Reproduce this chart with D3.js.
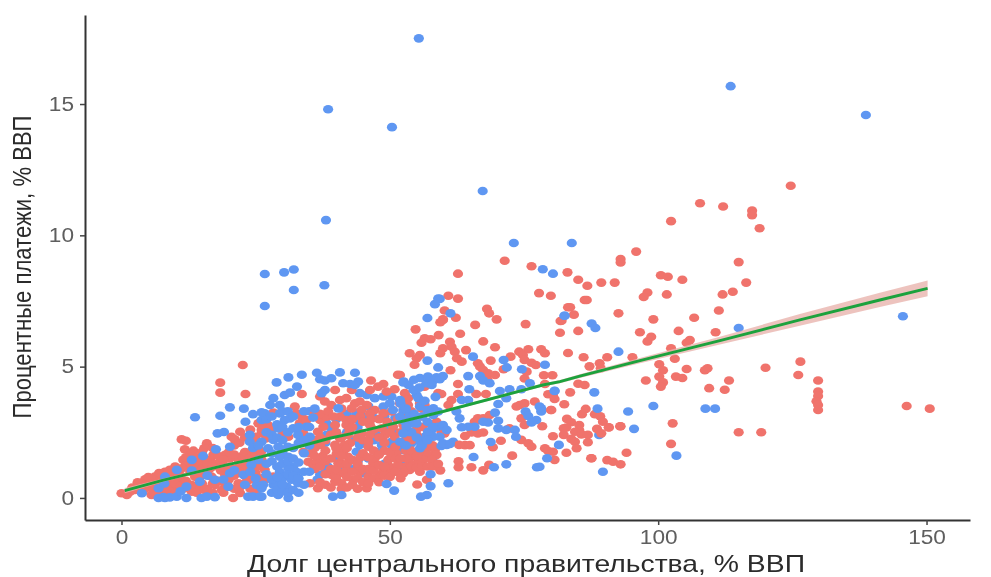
<!DOCTYPE html>
<html>
<head>
<meta charset="utf-8">
<script src="https://cdn.jsdelivr.net/npm/d3@7"></script>
<style>
html, body { margin: 0; padding: 0; background: #fff; }
svg { display: block; filter: blur(0.45px); }
</style>
</head>
<body>
<div id="chart1"></div>
<script>
var width = 991,
    height = 577;

var xTicks = [0, 50, 100, 150],
    yTicks = [0, 5, 10, 15];

var xTitle = "Долг центрального правительства, % ВВП",
    yTitle = "Процентные платежи, % ВВП";

// debt, payments
var blueBack = [
  [40.4,1.19],[39.8,1.51],[38.5,1.19],[37.0,0.88],[42.6,1.13],[45.0,0.94],[43.5,2.21],[44.4,2.02],[43.8,1.76],
  [47.5,1.76],[48.5,2.02],[50.3,2.02],[47.5,2.40],[43.8,3.22],[45.0,3.09],[38.2,2.84],[39.1,2.65],[38.2,2.40],
  [50.3,2.14],[52.5,1.95],[52.2,2.08],[53.1,2.33],[52.5,1.83],[54.0,2.08],[55.6,2.14],[56.5,2.33],[58.1,1.38],
  [44.4,3.99],[45.7,3.92],[47.2,3.80],[48.8,3.86],[50.3,3.86],[48.8,3.48],[50.0,3.60],[52.2,1.32],[52.5,1.19],
  [62.4,3.29],[63.0,3.03],[88.1,4.02],[89.0,2.40],[57.0,5.23],[61.8,2.14],
  [38.0,2.10],[38.0,1.00],[40.0,2.50],[40.0,3.00],[42.0,2.50],[42.0,3.20],[44.0,2.70],[44.0,3.00],[44.0,1.40],
  [46.0,1.50],[46.0,2.10],[46.0,3.50],[47.0,3.05],[47.0,2.20],[49.0,2.60],[49.0,1.30],[49.0,3.10],[51.0,2.50],
  [51.0,3.05],[51.0,1.60],[53.0,1.80],[36.5,0.70],[35.0,3.30]
];

var redPts = [
  // right side
  [124.7,11.89],[107.8,11.22],[112.1,11.10],[117.5,10.94],[117.5,10.77],[118.9,10.27],[102.4,10.54],[95.9,9.38],[93.0,9.10],[93.0,8.97],
  [115.0,8.98],[116.4,8.20],[113.9,7.85],[112.0,7.75],[111.3,7.14],[106.7,6.86],[100.5,8.48],[101.8,8.42],[104.5,8.31],[98.0,7.82],
  [97.3,7.65],[101.6,7.75],[92.6,7.03],[99.1,6.80],[96.6,6.31],[103.8,6.36],[98.7,6.14],[98.0,5.96],[110.7,6.31],[105.9,6.01],
  [105.3,5.91],[102.4,5.70],[103.1,5.30],[100.2,5.09],[100.9,4.86],[100.2,4.62],[100.9,4.40],[100.5,4.24],[97.7,4.47],[103.3,4.62],
  [104.5,4.57],[105.3,4.91],[109.2,4.94],[108.7,4.86],[113.2,4.47],[109.5,4.18],[112.4,4.12],[120.0,4.96],[126.5,5.19],[126.1,4.68],
  [129.8,4.47],[129.8,4.05],[129.8,3.88],[129.5,3.68],[129.8,3.54],[129.8,3.35],[146.3,3.50],[150.6,3.40],[115.0,2.50],[119.2,2.50],
  [102.7,2.84],[102.4,2.06],[94.1,1.72],[87.6,1.51],[90.5,1.44],[91.6,1.38],[93.0,1.28],[93.0,2.73],[90.8,2.69],
  // upper middle
  [71.4,9.03],[76.4,8.82],[62.7,8.54],[83.1,8.59],[77.8,7.80],[80.0,7.70],[60.9,7.70],[62.7,7.59],[60.2,7.14],[62.3,6.86],[59.9,6.78],
  [68.1,7.20],[68.5,7.03],[69.9,6.80],[65.9,6.59],[75.3,6.62],[83.2,7.26],[81.8,6.74],[85.1,8.31],[86.8,8.08],[89.4,8.20],[91.9,8.20],
  [86.3,7.54],[86.7,7.54],[83.6,7.26],[84.3,6.98],[82.0,6.75],[85.1,6.36],[81.7,6.29],[83.2,5.52],[86.1,5.36],[87.2,5.01],[89.1,5.13],
  [90.5,5.36],[89.3,4.94],[95.2,5.36],[85.1,4.35],[86.3,4.30],[83.6,4.02],[82.5,3.57],
  // lower right cluster
  [79.5,3.95],[80.7,3.77],[80.0,3.35],[86.5,3.39],[85.8,3.19],[88.2,3.19],[89.2,3.11],[89.7,2.90],[90.8,2.68],[92.9,2.73],[78.4,2.73],
  [83.0,3.01],[83.8,2.88],[82.9,2.68],[82.4,2.65],[85.3,2.78],[85.3,2.59],[84.5,2.52],[85.7,2.42],[86.9,2.40],[88.6,2.63],[89.4,2.46],
  [82.4,2.40],[80.4,2.35],[83.8,2.25],[84.5,2.14],[86.9,2.12],[84.8,1.89],[82.9,1.72],[78.9,1.89],[79.5,1.79],[80.4,1.76],[80.7,1.45],
  [87.5,1.51],
  // 50-80
  [59.9,6.80],[59.4,6.69],[54.8,6.42],[63.1,6.25],[59.1,6.20],[57.6,6.04],[56.5,6.08],[55.9,5.91],[61.2,5.95],[59.9,5.70],[61.5,5.76],
  [59.4,5.51],[62.1,5.57],[64.2,5.63],[62.5,5.32],[63.4,5.19],[67.4,5.96],[69.6,5.74],[53.7,5.51],[55.6,5.44],[55.0,5.32],[54.6,5.07],
  [72.5,5.38],[74.1,5.57],[75.8,5.66],[74.8,5.44],[75.1,5.25],[76.4,5.15],[77.2,5.06],[78.2,5.66],[78.9,5.51],[68.8,5.23],[66.4,5.13],
  [66.8,5.00],[67.4,4.87],[68.3,4.75],[69.6,4.68],[61.3,4.86],[71.2,4.90],[75.5,4.81],[75.1,4.55],[78.7,4.67],[80.3,4.67],[68.2,4.49],
  [62.7,4.34],[51.9,4.68],[78.9,4.34],[80.4,3.92],[59.0,3.99],[59.6,3.96],[62.7,3.96],[61.5,3.73],[60.9,3.54],[66.1,3.96],[67.9,3.96],
  [74.2,3.54],[73.6,3.48],[75.1,3.60],[77.0,3.67],[80.1,3.35],[74.5,3.03],[75.1,2.78],[66.4,3.03],[67.4,3.03],[65.8,2.90],[68.6,3.16],
  [67.4,2.49],[66.4,2.46],[65.2,2.49],[64.0,2.36],[72.3,2.65],[74.5,2.21],[75.8,2.08],[76.4,1.95],[70.7,2.18],[69.2,1.93],[62.9,2.02],
  [64.0,2.01],[64.9,2.01],[72.8,1.61],[62.8,1.40],[62.8,1.17],[65.2,1.17],[68.5,1.26],[67.4,1.05],[59.4,1.05],[56.9,0.69],[55.1,0.51],
  [55.6,1.00],[53.7,1.07],[52.8,1.19],[51.9,0.94],[57.4,1.95],[56.5,1.83],[58.4,1.83],[55.6,1.70],[57.1,1.64],[58.7,1.64],[54.7,1.57],
  [56.2,1.45],[53.7,1.57],[55.3,1.38],[57.8,1.45],[53.7,1.32],[53.1,2.59],[54.9,2.59],[57.1,2.84],[55.9,3.41],[56.5,3.54],[54.0,2.97],
  [54.6,2.52],[59.6,2.52],[60.2,2.46],[53.4,3.80],[55.6,3.60],[58.7,2.90],[52.8,3.99],[53.4,3.54],[51.9,3.60],[56.5,4.24],
  // 26-53
  [46.5,4.47],[48.8,4.34],[47.8,4.24],[51.5,4.69],[50.9,4.14],[42.9,4.11],[46.3,4.11],[39.8,4.11],[37.0,3.86],[37.9,3.67],[39.1,3.54],
  [40.7,3.73],[41.9,3.80],[43.5,3.60],[44.4,3.67],[45.7,3.54],[42.9,3.41],[44.7,3.35],[47.2,3.35],[49.4,4.05],[53.1,3.73],[33.6,3.96],
  [32.3,3.48],[28.3,3.25],[26.4,2.97],[27.3,2.78],[26.1,2.46],[27.0,2.27],[28.0,2.59],[33.6,3.09],[32.6,3.22],[33.2,2.84],[34.5,2.97],
  [37.0,2.97],[38.2,3.09],[40.7,3.09],[41.9,2.97],[37.6,2.71],[39.8,2.78],[41.9,2.78],[36.6,2.52],[31.1,2.33],[30.1,2.46],[33.9,2.46],
  [40.7,2.27],[42.2,2.40],[46.3,3.22],[48.8,3.22],[50.3,3.29],[52.5,3.22],[46.3,2.78],[48.5,2.65],[50.6,2.71],[52.5,2.78],[44.7,2.46],
  [46.3,2.40],[49.1,2.40],[50.9,2.33],[39.8,2.02],[41.6,2.02],[42.6,2.09],[33.9,1.76],[35.1,1.70],[34.8,1.38],[35.7,1.26],[36.4,1.38],
  [40.1,1.70],[41.3,1.76],[42.2,1.57],[40.4,1.32],[39.1,0.88],[40.7,0.94],[41.9,1.07],[39.8,0.62],[41.0,0.56],[43.2,0.69],[44.4,1.00],
  [46.0,0.81],[36.6,0.37],[35.1,0.56],[44.1,1.19],[46.9,1.32],[48.8,1.07],[50.0,1.19],[48.1,0.88],[50.3,0.94],[45.7,0.37],[47.2,1.51],
  [49.7,1.45],[51.2,1.70],[53.1,1.51],[51.5,1.26],[52.5,0.94],[37.0,2.02],[37.5,1.60],[36.0,1.90],[44.5,1.55],[46.0,1.95],[49.0,1.80],
  // fill of the dense cloud
  [35.0,2.10],[36.0,1.10],[36.0,1.60],[36.0,2.20],[36.0,3.20],[37.0,0.60],[37.0,1.20],[37.0,2.30],[37.0,3.20],[38.0,0.50],[38.0,0.90],
  [38.0,1.40],[38.0,1.80],[38.0,2.20],[38.5,3.30],[39.0,0.40],[39.0,1.10],[39.0,1.50],[39.0,2.40],[39.5,3.10],[40.0,0.75],[40.0,1.10],
  [40.0,1.90],[40.0,2.50],[41.0,0.35],[41.0,1.30],[41.0,1.60],[41.0,2.30],[41.0,3.40],[42.0,0.40],[42.0,0.80],[42.0,1.30],[42.0,1.90],
  [42.5,2.60],[43.0,0.50],[43.0,1.00],[43.0,1.45],[43.0,2.70],[43.0,3.00],[44.0,0.35],[44.0,0.75],[44.0,1.30],[44.0,2.30],[44.5,3.10],
  [45.0,0.60],[45.0,1.10],[45.0,1.70],[45.0,2.20],[45.0,2.90],[46.0,0.55],[46.0,1.10],[46.0,1.55],[46.0,2.15],[46.5,3.00],[47.0,0.75],
  [47.0,1.05],[47.0,1.80],[47.0,2.60],[48.0,0.60],[48.0,1.25],[48.0,1.65],[48.0,2.30],[48.0,3.00],[49.0,0.85],[49.0,1.20],[49.0,2.10],
  [49.5,2.90],[50.0,0.80],[50.0,1.50],[50.0,1.75],[50.0,2.50],[51.0,1.00],[51.0,1.50],[51.0,1.95],[51.5,3.00],[52.0,0.75],[52.0,1.50],
  [52.0,2.50],[53.0,1.05],[53.0,1.80],[53.0,2.20],[53.0,3.00],[54.0,1.20],[54.0,1.80],[54.0,2.20],[54.0,3.30],[55.0,1.60],[55.0,1.15],
  [55.0,2.40],[56.0,1.20],[56.0,2.70],[56.0,3.10],[57.0,1.20],[57.0,2.10],[58.0,1.20],[58.0,2.00],[59.0,1.30],
  // left side
  [18.4,4.39],[18.4,4.01],[23.1,3.96],[22.6,5.06],[11.2,2.23],[12.0,2.18],[15.9,2.08],[15.4,1.89],[11.8,1.85],[13.4,1.80],[12.8,1.64],
  [20.5,2.33],[22.1,2.52],[21.1,2.23],[25.5,2.84],[26.1,2.59],[24.9,2.33],[11.5,1.45],[12.1,1.26],[13.7,1.32],[11.2,1.13],[12.8,1.00],
  [14.6,1.19],[16.5,1.45],[18.0,1.32],[19.3,1.64],[20.2,1.51],[21.8,1.45],[17.1,1.64],[14.9,1.38],[16.5,1.13],[15.2,0.88],[13.7,0.81],
  [0.0,0.18],[1.0,0.11],[1.6,0.24],[2.5,0.30],[4.4,0.71],[4.7,0.56],[3.4,0.49],[6.2,0.81],[8.1,1.00],[9.0,1.07],[7.2,0.69],[5.6,0.37],
  [6.9,0.24],[8.7,0.18],[10.6,0.69],[11.8,0.37],[13.1,0.24],[14.3,0.43],[15.5,0.30],[17.4,0.49],[18.7,0.30],[19.9,0.43],[20.8,0.00],
  [5.6,0.11],[9.0,0.49],[10.3,0.30],[10.0,0.88],[14.3,0.75],[16.8,0.81],[19.3,0.88],[23.0,1.19],[26.1,0.75],[21.8,0.56],[23.3,0.62],
  [22.1,0.19],[25.5,1.90],[26.1,1.45],[26.7,1.07],[26.7,0.69],[28.3,0.81],[22.5,1.60],[24.0,1.75],[18.5,1.05],[21.0,1.10],
  [2.0,0.40],[3.0,0.35],[3.0,0.60],[4.0,0.25],[5.0,0.80],[5.0,0.45],[6.0,0.25],[6.0,0.55],[7.0,0.45],[7.0,0.95],[8.0,0.35],[8.0,0.70],
  [9.0,0.25],[9.0,0.80],[10.0,0.55],[10.0,1.20],[10.0,0.15],[11.0,0.45],[11.0,0.85],[12.0,0.65],[12.0,1.55],[13.0,0.50],[13.0,1.15],
  [14.0,0.20],[14.0,0.95],[14.0,1.55],[15.0,0.55],[15.0,1.10],[15.0,1.75],[16.0,0.35],[16.0,0.95],[16.0,1.30],[17.0,0.20],[17.0,0.55],
  [17.0,1.20],[17.0,1.90],[18.0,0.65],[18.0,1.60],[19.0,0.20],[19.0,0.60],[19.0,1.15],[19.0,1.45],[20.0,0.70],[20.0,1.20],[20.0,1.75],
  [21.0,0.35],[21.0,0.85],[21.0,1.65],[21.0,2.00],[22.0,0.40],[22.0,1.00],[22.0,1.30],[22.0,2.10],[23.0,0.85],[23.0,1.45],[23.0,1.75],
  [23.0,2.30],[24.0,0.35],[24.0,0.70],[24.0,1.05],[24.0,1.55],[24.0,2.60],[25.0,0.20],[25.0,0.95],[25.0,1.25],[25.0,1.65],[25.0,2.20],
  [26.0,0.55],[26.0,1.20],[26.0,1.75],[26.0,2.80]
];

var blueFront = [
  // outliers
  [55.4,17.5],[113.5,15.68],[138.7,14.58],[38.5,14.8],[50.4,14.12],[67.3,11.69],[38.1,10.58],[73.1,9.71],[83.9,9.71],[26.7,8.53],
  [30.3,8.59],[32.1,8.70],[32.1,7.92],[37.8,8.10],[26.7,7.31],[78.5,8.71],[80.4,8.54],
  // right side
  [115.0,6.47],[145.6,6.92],[92.6,5.57],[87.6,6.64],[88.3,6.47],[82.5,6.94],[88.7,3.40],[94.4,3.29],[99.1,3.50],[108.8,3.40],
  [110.6,3.40],[95.5,2.63],[103.4,1.61],[89.7,1.00],[80.7,4.07],[78.2,3.41],[81.5,2.02],[79.3,1.51],[77.9,1.19],
  // 50-80
  [59.3,7.58],[61.3,7.03],[82.6,6.94],[59.0,7.59],[58.4,7.38],[57.0,6.85],[65.5,5.38],[59.0,4.97],[64.6,4.64],[71.2,5.25],[71.8,4.97],
  [74.6,4.90],[78.9,5.07],[66.8,4.64],[67.4,4.47],[68.6,4.37],[55.6,4.57],[57.1,4.62],[58.7,4.59],[59.9,4.64],[56.8,4.37],[58.1,4.47],
  [59.3,4.52],[57.8,4.30],[52.6,4.43],[64.8,4.14],[70.5,4.07],[72.3,4.14],[71.7,3.80],[70.2,3.58],[74.5,4.14],[76.1,4.37],[80.7,4.08],
  [63.4,3.73],[64.6,3.73],[77.9,3.48],[78.2,3.29],[75.3,3.29],[75.8,3.12],[77.3,2.97],[76.4,2.87],[69.6,3.25],[70.2,2.94],[68.3,2.87],
  [67.4,2.90],[65.8,2.71],[64.6,2.71],[63.4,2.69],[70.2,2.65],[71.7,2.59],[73.3,2.59],[73.5,2.33],[68.8,2.13],[60.6,2.02],[59.6,1.98],
  [65.6,1.56],[71.7,1.28],[77.4,1.17],[69.4,1.17],[57.6,0.90],[60.9,0.56],[57.6,0.45],[56.9,0.11],[55.8,0.05],[57.8,2.59],[59.0,2.71],
  [59.9,2.78],[60.6,2.59],[59.3,2.33],[59.9,2.08],[61.2,2.06],[58.1,2.33],[57.1,2.52],[55.6,1.89],[52.5,3.35],[51.9,3.09],[53.7,3.16],
  [55.0,3.92],[54.4,4.11],[55.3,3.80],[55.6,3.48],[52.8,2.90],[54.0,2.84],[58.1,3.41],[59.0,3.29],[58.1,3.16],[55.0,2.84],
  [53.0,2.00],[54.0,2.50],[55.0,2.30],[56.0,2.00],[57.0,2.90],[57.0,2.20],[58.0,2.70],[54.5,3.20],[56.0,3.10],[53.0,3.40],[52.0,3.60],
  [56.5,3.70],[57.0,3.35],[58.5,3.85],[55.5,4.20],[53.5,4.30],[54.5,4.50],
  // 26-53
  [28.9,4.40],[31.1,4.59],[33.6,4.69],[32.7,4.24],[30.4,3.92],[31.4,4.01],[28.3,3.80],[27.7,3.54],[29.5,3.54],[26.7,3.22],[36.4,4.77],
  [37.0,4.52],[37.9,4.47],[39.1,4.56],[40.7,4.78],[43.5,4.77],[41.3,4.37],[42.6,4.34],[44.1,4.43],[43.5,4.30],[37.9,4.11],[37.3,3.99],
  [51.9,3.73],[50.6,3.35],[52.5,4.40],[29.2,2.65],[30.4,2.97],[31.4,3.03],[29.5,3.22],[32.0,2.65],[32.9,2.40],[34.5,2.71],[35.7,3.06],
  [28.3,2.21],[27.3,1.89],[29.2,1.95],[26.1,2.97],[26.1,2.14],[35.1,2.33],[40.4,3.41],[51.9,2.14],[53.1,2.71],[52.5,2.46],[29.5,1.57],
  [31.1,1.57],[32.0,1.19],[32.6,1.00],[31.1,1.13],[29.5,1.00],[30.4,0.81],[31.7,0.69],[30.8,0.43],[29.2,0.50],[31.1,0.00],[29.2,0.11],
  [32.9,0.56],[29.8,0.62],[39.4,0.05],[41.0,0.11],[26.1,0.05],[28.3,0.50],[26.4,0.50],[49.4,0.53],[50.8,0.28],
  [27.0,0.90],[27.0,1.30],[27.0,2.50],[27.0,3.00],[28.0,0.20],[28.0,0.70],[28.0,1.40],[28.0,1.70],[28.0,2.40],[28.0,3.10],[29.0,0.30],
  [29.0,0.80],[29.0,1.20],[29.0,2.30],[29.0,2.80],[30.0,0.25],[30.0,0.50],[30.0,1.30],[30.0,1.75],[30.0,2.20],[30.0,2.70],[30.0,3.30],
  [31.0,0.20],[31.0,0.90],[31.0,1.40],[31.0,1.95],[31.0,2.50],[31.0,3.30],[32.0,0.30],[32.0,0.85],[32.0,1.50],[32.0,1.90],[32.0,3.10],
  [33.0,0.20],[33.0,0.75],[33.0,1.35],[33.0,2.10],[33.0,2.70],[34.0,0.50],[34.0,1.00],[34.0,1.70],[34.0,2.20],[34.0,3.30],[35.0,1.00],
  [35.0,2.00],[35.0,2.70],[36.0,3.40],
  // left side
  [13.7,3.07],[18.4,3.13],[20.2,3.45],[22.8,3.40],[23.1,2.90],[24.5,3.19],[17.9,2.46],[19.1,2.51],[26.1,3.26],[3.8,0.18],[6.9,0.00],
  [8.1,0.00],[9.0,0.02],[10.3,0.05],[7.8,0.03],[12.1,0.00],[14.9,0.00],[15.9,0.05],[17.4,0.03],[23.6,0.05],[24.5,0.05],[25.8,0.05],
  [6.9,0.37],[8.1,0.81],[10.3,1.07],[13.1,1.45],[13.1,1.04],[14.6,0.62],[17.4,0.69],[19.9,0.43],[20.2,1.95],[17.6,1.85],[15.2,1.60],
  [23.9,2.40],[23.9,2.14],[25.5,1.45],[22.7,0.88],[20.2,0.94],[24.2,1.26],[25.2,0.49],[26.1,0.37],[12.1,0.43],
  [8.0,0.55],[11.0,0.25],[16.0,0.85],[19.0,0.70],[21.0,1.05],[23.0,0.50],[24.0,1.00],[24.5,1.90],[25.0,0.75],[25.5,2.00]
];

var lineX = [0.6, 7.8, 19.6, 23.9, 32.0, 38.8, 42.6, 59.9, 78.5, 81.7, 85.4, 96.6, 111.5, 126.4, 141.3, 150.2],
    lineY = [0.28, 0.68, 1.26, 1.45, 1.89, 2.27, 2.44, 3.29, 4.30, 4.43, 4.64, 5.23, 5.99, 6.78, 7.54, 7.98],
    lineLow = [0.18, 0.62, 1.21, 1.40, 1.85, 2.23, 2.40, 3.24, 4.24, 4.37, 4.57, 5.13, 5.84, 6.56, 7.27, 7.68],
    lineHigh = [0.38, 0.74, 1.31, 1.50, 1.93, 2.31, 2.48, 3.34, 4.36, 4.49, 4.71, 5.33, 6.14, 7.00, 7.81, 8.28];

var svg = d3.select("div#chart1")
    .append("svg")
    .attr("width", width)
    .attr("height", height)
    .attr("viewBox", "0 0 " + width + " " + height);

svg.append("rect")
    .attr("width", "100%")
    .attr("height", "100%")
    .attr("fill", "#fff");

var x = d3.scaleLinear().domain([-6.8, 158.1]).range([85, 970]),
    y = d3.scaleLinear().domain([-0.84, 18.39]).range([520, 15]);

function drawPoints(pts, color) {
    svg.append("g")
        .selectAll("ellipse")
        .data(pts)
        .enter().append("ellipse")
        .attr("cx", function(d) { return x(d[0]); })
        .attr("cy", function(d) { return y(d[1]); })
        .attr("rx", 5.1)
        .attr("ry", 4.3)
        .attr("fill", color);
}

drawPoints(blueBack, "#5f97f2");
drawPoints(redPts, "#f0736c");
drawPoints(blueFront, "#5f97f2");

// confidence band and trend
var band = d3.area()
    .x(function(d, i) { return x(lineX[i]); })
    .y0(function(d, i) { return y(lineLow[i]); })
    .y1(function(d, i) { return y(lineHigh[i]); });

svg.append("path")
    .attr("d", band(lineX))
    .attr("fill", "#e8b4ae")
    .attr("opacity", 0.8);

var trend = d3.line()
    .x(function(d, i) { return x(lineX[i]); })
    .y(function(d, i) { return y(lineY[i]); });

svg.append("path")
    .attr("d", trend(lineX))
    .attr("fill", "none")
    .attr("stroke", "#1ca23d")
    .attr("stroke-width", 3);

// axes
var xAxis = svg.append("g")
    .attr("transform", "translate(0,520)")
    .call(d3.axisBottom(x).tickValues(xTicks).tickSize(5).tickPadding(5).tickSizeOuter(0));

var yAxis = svg.append("g")
    .attr("transform", "translate(85,0)")
    .call(d3.axisLeft(y).tickValues(yTicks).tickSize(5).tickPadding(6).tickSizeOuter(0));

[xAxis, yAxis].forEach(function(a) {
    a.select(".domain").attr("stroke", "#333").attr("stroke-width", 2);
    a.selectAll(".tick line").attr("stroke", "#444").attr("stroke-width", 1.5);
    a.selectAll("text")
        .attr("fill", "#5e5e5e")
        .style("font-family", "'Liberation Sans', Arial, sans-serif")
        .style("font-size", "19.5px")
        .attr("textLength", function(d) { return String(d).length * 12.6; })
        .attr("lengthAdjust", "spacingAndGlyphs");
});

svg.append("text")
    .attr("x", 526)
    .attr("y", 572)
    .attr("text-anchor", "middle")
    .attr("fill", "#2b2b2b")
    .style("font-family", "'Liberation Sans', Arial, sans-serif")
    .style("font-size", "24px")
    .attr("textLength", 558)
    .attr("lengthAdjust", "spacingAndGlyphs")
    .text(xTitle);

svg.append("text")
    .attr("transform", "translate(31,267) rotate(-90)")
    .attr("text-anchor", "middle")
    .attr("fill", "#2b2b2b")
    .style("font-family", "'Liberation Sans', Arial, sans-serif")
    .style("font-size", "25px")
    .attr("textLength", 303)
    .attr("lengthAdjust", "spacingAndGlyphs")
    .text(yTitle);
</script>
</body>
</html>
